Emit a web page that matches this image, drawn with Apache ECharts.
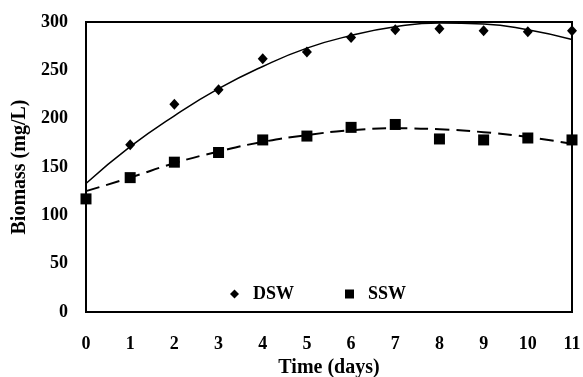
<!DOCTYPE html>
<html>
<head>
<meta charset="utf-8">
<script src="https://cdn.jsdelivr.net/npm/echarts@6/dist/echarts.min.js"></script>
<style>
  html, body { margin: 0; padding: 0; background: #fff; }
  #chart { width: 583px; height: 377px; }
</style>
</head>
<body>
<div id="chart"></div>
<script>
// 时间（天）
const days = [0, 1, 2, 3, 4, 5, 6, 7, 8, 9, 10, 11];

// 实测点（DSW 第 0 天与 SSW 重合，被方块遮住）
const dswValues = [117, 173, 215, 230, 262, 269, 284, 292, 293, 291, 290, 291];
const sswValues = [117, 139, 155, 165, 178, 182, 191, 194, 179, 178, 180, 178];

// 趋势线
const dswTrend = [133, 171, 203, 231, 254, 273, 286, 295, 299, 298, 292, 282];
const sswTrend = [125, 139, 154, 166, 176, 183, 188, 190, 189, 186, 181, 174];

const yTicks = [0, 50, 100, 150, 200, 250, 300];

const FONT = '"Liberation Serif", "Times New Roman", serif';

const pairs = (vals) => days.map((d, i) => [d, vals[i]]).filter((p) => p[1] != null);

const chart = echarts.init(document.getElementById('chart'));

chart.setOption({
  animation: false,
  backgroundColor: '#fff',
  textStyle: { fontFamily: FONT, color: '#000' },
  // v6 默认会为标签让出空间，这里固定绘图区
  grid: {
    left: 86, right: 11, top: 22, bottom: 65,
    outerBoundsMode: 'none',
    show: true, borderColor: '#000', borderWidth: 2,
  },
  legend: {
    data: ['DSW', 'SSW'],
    left: 225,
    top: 280,
    itemGap: 51,
    itemWidth: 9,
    itemHeight: 9,
    // 图例文字与图标之间留得比较宽
    formatter: (name) => '  ' + name,
    textStyle: { fontFamily: FONT, fontWeight: 'bold', fontSize: 18, color: '#000' },
  },
  xAxis: {
    type: 'value',
    min: 0,
    max: 11,
    interval: 1,
    name: 'Time (days)',
    nameLocation: 'middle',
    nameGap: 46,
    nameTextStyle: { fontFamily: FONT, fontWeight: 'bold', fontSize: 20, color: '#000' },
    axisLine: { lineStyle: { color: '#000', width: 2 } },
    axisTick: { show: false },
    splitLine: { show: false },
    axisLabel: { margin: 23, fontFamily: FONT, fontWeight: 'bold', fontSize: 18, color: '#000' },
  },
  yAxis: {
    type: 'value',
    min: yTicks[0],
    max: yTicks[yTicks.length - 1],
    interval: 50,
    name: 'Biomass (mg/L)',
    nameLocation: 'middle',
    nameGap: 55,
    nameTextStyle: { fontFamily: FONT, fontWeight: 'bold', fontSize: 20, color: '#000' },
    axisLine: { lineStyle: { color: '#000', width: 2 } },
    axisTick: { show: false },
    splitLine: { show: false },
    axisLabel: { margin: 18, fontFamily: FONT, fontWeight: 'bold', fontSize: 18, color: '#000' },
  },
  series: [
    {
      name: 'DSW trend',
      type: 'line',
      data: pairs(dswTrend),
      smooth: true,
      symbol: 'none',
      lineStyle: { color: '#000', width: 1.5 },
      z: 2,
    },
    {
      name: 'SSW trend',
      type: 'line',
      data: pairs(sswTrend),
      smooth: true,
      symbol: 'none',
      lineStyle: { color: '#000', width: 2, type: [14, 7] },
      z: 2,
    },
    {
      name: 'DSW',
      type: 'scatter',
      data: pairs(dswValues),
      symbol: 'diamond',
      symbolSize: [10, 11],
      itemStyle: { color: '#000', opacity: 1 },
      z: 3,
    },
    {
      name: 'SSW',
      type: 'scatter',
      data: pairs(sswValues),
      symbol: 'rect',
      symbolSize: 11,
      itemStyle: { color: '#000', opacity: 1 },
      z: 4,
    },
  ],
});
</script>
</body>
</html>
